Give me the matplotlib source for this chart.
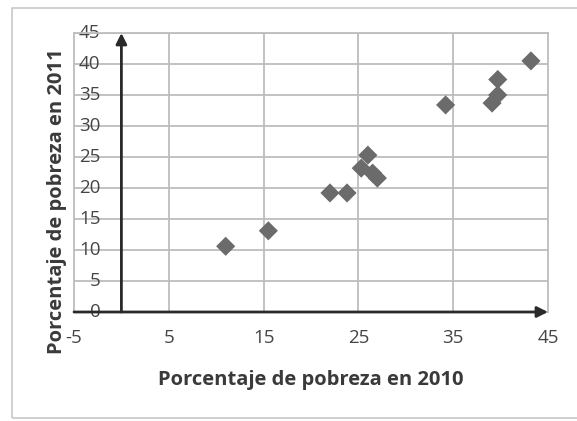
import matplotlib
matplotlib.use("Agg")
import matplotlib.pyplot as plt
from matplotlib.patches import Rectangle

# poverty % per region, 2010 vs 2011
pobreza_2010 = [11.0, 15.5, 22.0, 23.8, 25.3, 26.0, 26.5, 27.0, 34.2, 39.1, 39.7, 39.7, 43.2]
pobreza_2011 = [10.6, 13.1, 19.2, 19.2, 23.2, 25.3, 22.4, 21.6, 33.4, 33.7, 35.0, 37.5, 40.5]

x_ticks = [-5, 5, 15, 25, 35, 45]
y_ticks = list(range(0, 50, 5))

plt.rcParams['font.family'] = ['Open Sans', 'DejaVu Sans']

fig = plt.figure(figsize=(5.77, 4.21), dpi=100)
fig.patch.set_facecolor('white')

# light frame around the whole chart
fig.patches.append(Rectangle((12 / 577, 3 / 421), 1.2, 1 - 11 / 421,
                             transform=fig.transFigure, fill=False,
                             edgecolor='#c8c8c8', linewidth=1.2))

ax = fig.add_axes([74 / 577, 1 - 312 / 421, 474 / 577, 279 / 421])
ax.set_xlim(-5, 45)
ax.set_ylim(0, 45)

# grid
for v in [5, 15, 25, 35]:
    ax.axvline(v, color='#bdbdbd', linewidth=1.3, zorder=1)
for v in y_ticks[1:]:
    ax.axhline(v, color='#bdbdbd', linewidth=1.3, zorder=1)

for side in ['top', 'right', 'left', 'bottom']:
    ax.spines[side].set_color('#bdbdbd')
    ax.spines[side].set_linewidth(1.3)

# axes through the origin with arrow heads
ax.annotate('', xy=(45, 0), xytext=(-5, 0),
            arrowprops=dict(arrowstyle='-|>', color='#2a2a2a', lw=2.0,
                            mutation_scale=16, shrinkA=0, shrinkB=0),
            annotation_clip=False, zorder=3)
ax.annotate('', xy=(0, 45), xytext=(0, 0),
            arrowprops=dict(arrowstyle='-|>', color='#2a2a2a', lw=2.0,
                            mutation_scale=16, shrinkA=0, shrinkB=0),
            annotation_clip=False, zorder=3)

ax.scatter(pobreza_2010, pobreza_2011, marker='D', s=95, color='#6b6b6b',
           edgecolors='none', zorder=4)

ax.set_xticks(x_ticks)
ax.set_xticklabels([str(v) for v in x_ticks])
ax.set_yticks([])
ax.tick_params(axis='x', length=0, pad=12, labelsize=13.5, labelcolor='#454545')
for v in y_ticks:
    ax.text(-2.2, v, str(v), ha='right', va='center', fontsize=13.5,
            color='#454545', zorder=2)

fig.text(311 / 577, 1 - 380 / 421, 'Porcentaje de pobreza en 2010',
         ha='center', va='center', fontsize=14.5, fontweight='bold', color='#3a3a3a')
fig.text(57 / 577, 1 - 201 / 421, 'Porcentaje de pobreza en 2011',
         ha='center', va='center', rotation=90, fontsize=14.5, fontweight='bold',
         color='#3a3a3a')

fig.savefig('out.png', dpi=100)
